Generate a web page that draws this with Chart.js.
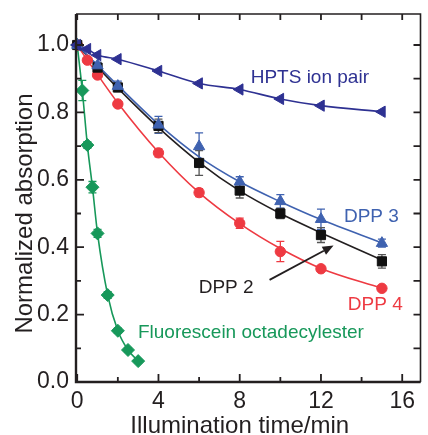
<!DOCTYPE html>
<html>
<head>
<meta charset="utf-8">
<script src="https://cdn.jsdelivr.net/npm/chart.js@4.4.1/dist/chart.umd.min.js"></script>
<style>
  html, body { margin: 0; padding: 0; background: #fff; }
  canvas { display: block; }
</style>
</head>
<body>
<canvas id="chart" width="428" height="435"></canvas>
<script>
// ---- measured data: normalized absorption vs. illumination time (min) ----
const timeHPTS  = [0, 0.5, 1, 2, 4, 6, 8, 10, 12, 15];
const absHPTS   = [1.0, 0.988, 0.970, 0.958, 0.923, 0.886, 0.868, 0.840, 0.820, 0.802];

const timeFluo  = [0, 0.25, 0.5, 0.75, 1, 1.5, 2, 2.5, 3];
const absFluo   = [1.0, 0.865, 0.703, 0.578, 0.441, 0.258, 0.152, 0.095, 0.062];
const errFluo   = [0, 0.03, 0.01, 0.017, 0.012, 0.01, 0.008, 0.006, 0.005];

const timeDPP4  = [0, 0.5, 1, 2, 4, 6, 8, 10, 12, 15];
const absDPP4   = [1.0, 0.955, 0.911, 0.825, 0.680, 0.562, 0.471, 0.387, 0.336, 0.278];
const errDPP4   = [0, 0.005, 0.008, 0.008, 0.012, 0.012, 0.015, 0.03, 0.006, 0.006];
const fitDPP4   = [1.0, 0.955, 0.912, 0.828, 0.682, 0.562, 0.470, 0.396, 0.337, 0.278];

const timeDPP   = [0, 1, 2, 4, 6, 8, 10, 12, 15];
const absDPP2   = [1.0, 0.933, 0.874, 0.760, 0.650, 0.568, 0.500, 0.436, 0.358];
const errDPP2   = [0, 0.01, 0.012, 0.02, 0.037, 0.022, 0.015, 0.022, 0.02];
const fitDPP2   = [1.0, 0.935, 0.872, 0.755, 0.652, 0.567, 0.500, 0.443, 0.362];

const absDPP3   = [1.0, 0.939, 0.878, 0.763, 0.699, 0.594, 0.536, 0.483, 0.412];
const errDPP3   = [0, 0.01, 0.015, 0.025, 0.04, 0.015, 0.02, 0.03, 0.012];
const fitDPP3   = [1.0, 0.940, 0.880, 0.765, 0.668, 0.594, 0.535, 0.482, 0.413];

// ---- axis ticks ----
const xTicks      = [0, 4, 8, 12, 16];
const xMinorTicks = [2, 6, 10, 14];
const yTicks      = [0, 0.2, 0.4, 0.6, 0.8, 1.0];
const yMinorTicks = [0.1, 0.3, 0.5, 0.7, 0.9];

// ---- styling ----
const FONT = '"Liberation Sans", Arial, Helvetica, sans-serif';
const INK = '#231f20';
const NAVY = '#2e3192';
const BLUE = '#3f62b0';
const RED = '#ee3a42';
const GREEN = '#17985a';

const pts = (xs, ys) => xs.map((x, i) => ({ x, y: ys[i] }));

// Series annotations placed in data coordinates
const seriesLabels = [
  { text: 'HPTS ion pair', x: 8.54, y: 0.902, color: NAVY },
  { text: 'DPP 3', x: 13.13, y: 0.490, color: BLUE },
  { text: 'DPP 2', x: 5.98, y: 0.279, color: INK },
  { text: 'DPP 4', x: 13.32, y: 0.228, color: RED },
  { text: 'Fluorescein octadecylester', x: 2.99, y: 0.145, color: GREEN }
];
const arrow = { from: { x: 9.47, y: 0.303 }, to: { x: 12.62, y: 0.405 } };

// Vertical error bars with caps, drawn beneath the markers
const errorBars = {
  id: 'errorBars',
  beforeDatasetsDraw(chart) {
    const { ctx, scales: { y } } = chart;
    ctx.save();
    chart.data.datasets.forEach((ds, di) => {
      if (!ds.errors) return;
      const meta = chart.getDatasetMeta(di);
      ctx.strokeStyle = ds.errorColor || ds.borderColor;
      ctx.lineWidth = 1.3;
      meta.data.forEach((el, i) => {
        const e = ds.errors[i];
        if (!e) return;
        const v = ds.data[i].y;
        const top = y.getPixelForValue(v + e);
        const bot = y.getPixelForValue(v - e);
        const cx = el.x;
        ctx.beginPath();
        ctx.moveTo(cx, top); ctx.lineTo(cx, bot);
        ctx.moveTo(cx - 4, top); ctx.lineTo(cx + 4, top);
        ctx.moveTo(cx - 4, bot); ctx.lineTo(cx + 4, bot);
        ctx.stroke();
      });
    });
    ctx.restore();
  }
};

// Box frame with inward ticks on all four sides, plus annotations and axis titles
const frame = {
  id: 'frame',
  afterDatasetsDraw(chart) {
    const { ctx, chartArea: a, scales: { x, y } } = chart;
    ctx.save();
    ctx.strokeStyle = INK;
    ctx.lineCap = 'butt';

    // ticks
    ctx.lineWidth = 1.8;
    ctx.beginPath();
    xTicks.forEach(v => { const px = x.getPixelForValue(v); ctx.moveTo(px, a.bottom); ctx.lineTo(px, a.bottom - 8); ctx.moveTo(px, a.top); ctx.lineTo(px, a.top + 6); });
    xMinorTicks.forEach(v => { const px = x.getPixelForValue(v); ctx.moveTo(px, a.bottom); ctx.lineTo(px, a.bottom - 5); ctx.moveTo(px, a.top); ctx.lineTo(px, a.top + 6); });
    yTicks.forEach(v => { const py = y.getPixelForValue(v); ctx.moveTo(a.left, py); ctx.lineTo(a.left + 8, py); ctx.moveTo(a.right, py); ctx.lineTo(a.right - 7, py); });
    yMinorTicks.forEach(v => { const py = y.getPixelForValue(v); ctx.moveTo(a.left, py); ctx.lineTo(a.left + 5, py); ctx.moveTo(a.right, py); ctx.lineTo(a.right - 7, py); });
    ctx.stroke();

    // frame
    ctx.lineWidth = 2.4;
    ctx.beginPath();
    ctx.moveTo(a.left, a.top); ctx.lineTo(a.left, a.bottom); ctx.lineTo(a.right, a.bottom);
    ctx.stroke();
    ctx.lineWidth = 1.6;
    ctx.beginPath();
    ctx.moveTo(a.left, a.top); ctx.lineTo(a.right, a.top); ctx.lineTo(a.right, a.bottom);
    ctx.stroke();

    // series labels
    ctx.font = '19px ' + FONT;
    ctx.textAlign = 'left';
    ctx.textBaseline = 'middle';
    seriesLabels.forEach(l => {
      ctx.fillStyle = l.color;
      ctx.fillText(l.text, x.getPixelForValue(l.x), y.getPixelForValue(l.y));
    });

    // arrow pointing at the DPP 2 curve
    const x0 = x.getPixelForValue(arrow.from.x), y0 = y.getPixelForValue(arrow.from.y);
    const x1 = x.getPixelForValue(arrow.to.x), y1 = y.getPixelForValue(arrow.to.y);
    const ang = Math.atan2(y1 - y0, x1 - x0);
    const head = 11, half = 4.5;
    ctx.strokeStyle = INK;
    ctx.fillStyle = INK;
    ctx.lineWidth = 1.8;
    ctx.beginPath();
    ctx.moveTo(x0, y0);
    ctx.lineTo(x1 - Math.cos(ang) * head, y1 - Math.sin(ang) * head);
    ctx.stroke();
    ctx.beginPath();
    ctx.moveTo(x1, y1);
    ctx.lineTo(x1 - Math.cos(ang) * head - Math.sin(ang) * half, y1 - Math.sin(ang) * head + Math.cos(ang) * half);
    ctx.lineTo(x1 - Math.cos(ang) * head + Math.sin(ang) * half, y1 - Math.sin(ang) * head - Math.cos(ang) * half);
    ctx.closePath();
    ctx.fill();

    // axis titles, centred on the labelled ranges
    ctx.fillStyle = INK;
    ctx.font = '24px ' + FONT;
    ctx.textAlign = 'center';
    ctx.textBaseline = 'alphabetic';
    ctx.fillText('Illumination time/min', x.getPixelForValue(8), 433);
    ctx.translate(32, y.getPixelForValue(0.5));
    ctx.rotate(-Math.PI / 2);
    ctx.fillText('Normalized absorption', 0, 0);
    ctx.restore();
  }
};

const markerSet = (label, xs, ys, errs, color, style, radius, rotation, errColor) => ({
  label, data: pts(xs, ys), errors: errs, errorColor: errColor,
  showLine: false, pointStyle: style, pointRadius: radius, pointRotation: rotation || 0,
  pointBackgroundColor: color, pointBorderColor: color, pointBorderWidth: 1,
  borderColor: color, backgroundColor: color, order: 1, clip: false
});
const curveSet = (label, xs, ys, color, width) => ({
  label, data: pts(xs, ys), showLine: true, pointRadius: 0,
  borderColor: color, borderWidth: width || 1.6, cubicInterpolationMode: 'monotone',
  fill: false, order: 2, clip: false
});

new Chart(document.getElementById('chart'), {
  type: 'scatter',
  data: {
    datasets: [
      curveSet('HPTS ion pair fit', timeHPTS, absHPTS, NAVY, 1.6),
      curveSet('DPP 3 fit', timeDPP, fitDPP3, BLUE),
      curveSet('DPP 2 fit', timeDPP, fitDPP2, INK),
      curveSet('DPP 4 fit', timeDPP4, fitDPP4, RED),
      curveSet('Fluorescein octadecylester fit', timeFluo, absFluo, GREEN),
      markerSet('HPTS ion pair', timeHPTS, absHPTS, null, NAVY, 'triangle', 6.5, -90),
      markerSet('DPP 3', timeDPP, absDPP3, errDPP3, BLUE, 'triangle', 6.5, 0),
      markerSet('DPP 2', timeDPP, absDPP2, errDPP2, '#111', 'rect', 6.5, 0, '#555'),
      markerSet('DPP 4', timeDPP4, absDPP4, errDPP4, RED, 'circle', 5.2, 0),
      markerSet('Fluorescein octadecylester', timeFluo, absFluo, errFluo, GREEN, 'rectRot', 6.5, 0)
    ]
  },
  options: {
    responsive: false,
    animation: false,
    devicePixelRatio: 1,
    layout: { padding: { top: 14, right: 1, left: 0, bottom: 0 } },
    plugins: { legend: { display: false }, tooltip: { enabled: false } },
    scales: {
      x: {
        type: 'linear', min: -0.06, max: 16.9,
        grid: { display: false, drawTicks: false }, border: { display: false },
        afterBuildTicks: s => { s.ticks = xTicks.map(v => ({ value: v })); },
        afterFit: s => { s.height = 53; s.paddingLeft = 0; s.paddingRight = 0; },
        ticks: { padding: 6, color: INK, font: { family: FONT, size: 23 }, maxRotation: 0, callback: v => String(v) }
      },
      y: {
        type: 'linear', min: 0, max: 1.092,
        grid: { display: false, drawTicks: false }, border: { display: false },
        afterBuildTicks: s => { s.ticks = yTicks.map(v => ({ value: v })); },
        afterFit: s => { s.width = 76; s.paddingTop = 0; s.paddingBottom = 0; },
        ticks: { padding: 7, color: INK, font: { family: FONT, size: 23 }, callback: v => Number(v).toFixed(1) }
      }
    }
  },
  plugins: [errorBars, frame]
});
</script>
</body>
</html>
